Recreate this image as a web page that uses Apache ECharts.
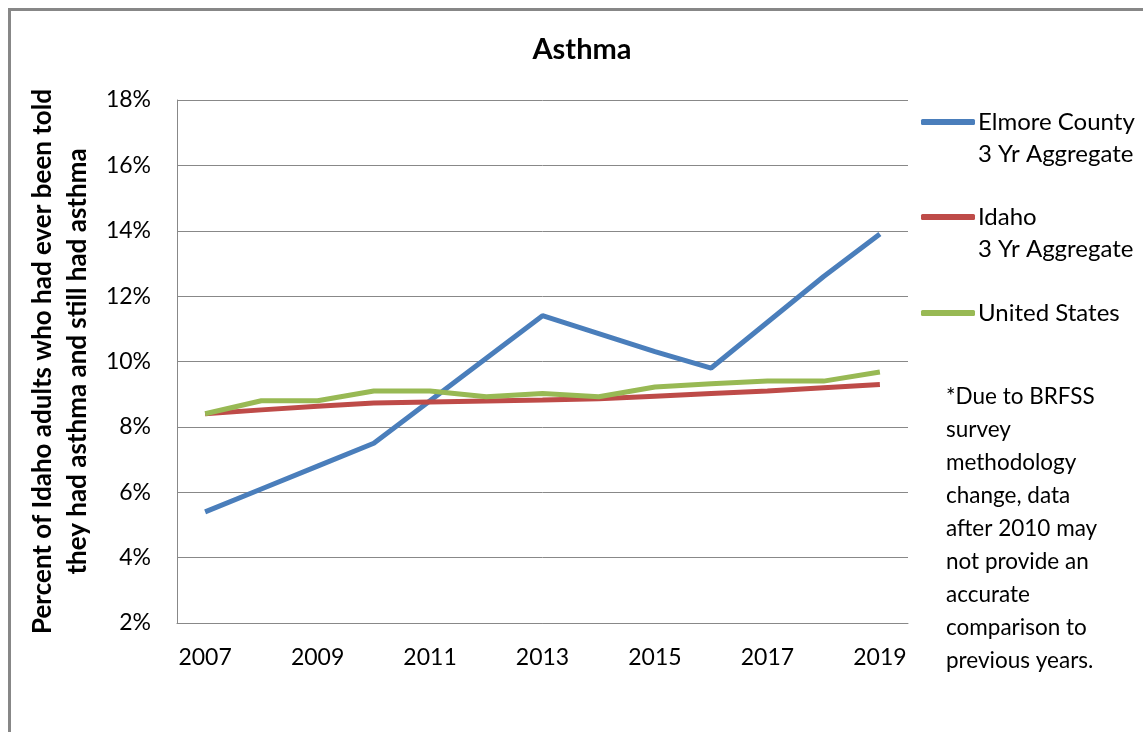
<!DOCTYPE html>
<html><head><meta charset="utf-8">
<script src="https://cdn.jsdelivr.net/npm/echarts@6/dist/echarts.min.js"></script>
<style>html,body{margin:0;padding:0;background:#fff}#c{width:1143px;height:732px}</style>
</head><body><div id="c"></div>
<script>
const years = ['2007','2008','2009','2010','2011','2012','2013','2014','2015','2016','2017','2018','2019'];
const elmore = [5.4, 6.1, 6.8, 7.5, 8.8, 10.1, 11.4, 10.85, 10.3, 9.8, 11.2, 12.6, 13.9];
const idaho = [8.4, 8.52, 8.63, 8.73, 8.76, 8.79, 8.82, 8.86, 8.94, 9.02, 9.1, 9.2, 9.3];
const us = [8.4, 8.8, 8.8, 9.1, 9.1, 8.92, 9.02, 8.92, 9.22, 9.32, 9.4, 9.4, 9.68];
const yTicks = {min: 2, max: 18, step: 2};
const FONT = 'Lato';
const chart = echarts.init(document.getElementById('c'));
const names = ['Elmore County\n3 Yr Aggregate', 'Idaho\n3 Yr Aggregate', 'United States'];
const legendTops = [73, 168, 264];
function legendFor(i) {
  return {
    orient: 'vertical', left: 916, top: legendTops[i], itemWidth: 54, itemHeight: 6,
    icon: 'roundRect',
    data: [names[i]],
    formatter: function (n) {
      const parts = n.split('\n');
      if (parts.length === 2) return '{e| }\n{a|' + parts[0] + '}\n{a|' + parts[1] + '}';
      return '{e| }\n{a|' + parts[0] + '}\n{e| }';
    },
    textStyle: {fontFamily: FONT, fontSize: 24, color: '#000', padding: [0,0,0,-2],
      rich: {a: {fontFamily: FONT, fontSize: 24, lineHeight: 32, color: '#000'},
             e: {fontSize: 24, lineHeight: 32}}}
  };
}
chart.setOption({
  animation: false,
  backgroundColor: '#fff',
  title: {text: 'Asthma', left: 577, top: 30, textAlign: 'center',
    textStyle: {fontFamily: FONT, fontSize: 29, fontWeight: 'bold', color: '#000'}},
  grid: {left: 177, top: 100, width: 731, height: 523},
  legend: [legendFor(0), legendFor(1), legendFor(2)],
  xAxis: {type: 'category', data: years, boundaryGap: true,
    axisLine: {lineStyle: {color: '#888', width: 1}}, axisTick: {show: false},
    axisLabel: {interval: 1, fontFamily: FONT, fontSize: 23, color: '#000', margin: 23}},
  yAxis: {type: 'value', min: yTicks.min, max: yTicks.max, interval: yTicks.step,
    name: 'Percent of Idaho adults who had ever been told\nthey had asthma and still had asthma',
    nameLocation: 'middle', nameRotate: 90, nameGap: 71,
    nameTextStyle: {fontFamily: FONT, fontSize: 26, fontWeight: 'bold', color: '#000', lineHeight: 35},
    axisLine: {show: true, lineStyle: {color: '#888', width: 1}}, axisTick: {show: false},
    splitLine: {lineStyle: {color: '#888', width: 1}},
    axisLabel: {formatter: '{value}%', fontFamily: FONT, fontSize: 23, color: '#000', margin: 26}},
  series: [
    {name: names[0], type: 'line', data: elmore, symbol: 'none', lineStyle: {width: 5, color: '#4a7ebb'}, itemStyle: {color: '#4a7ebb'}},
    {name: names[1], type: 'line', data: idaho, symbol: 'none', lineStyle: {width: 5, color: '#be4b48'}, itemStyle: {color: '#be4b48'}},
    {name: names[2], type: 'line', data: us, symbol: 'none', lineStyle: {width: 5, color: '#98b954'}, itemStyle: {color: '#98b954'}}
  ],
  graphic: [
    {type: 'rect', left: 7, top: 7, shape: {width: 1150, height: 740}, style: {fill: null, stroke: '#878787', lineWidth: 3}, silent: true},
    {type: 'text', left: 946, top: 380, style: {
      text: '*Due to BRFSS\nsurvey\nmethodology\nchange, data\nafter 2010 may\nnot provide an\naccurate\ncomparison to\nprevious years.',
      font: '22.5px ' + FONT, lineHeight: 33, fill: '#000'}}
  ]
});
</script></body></html>
